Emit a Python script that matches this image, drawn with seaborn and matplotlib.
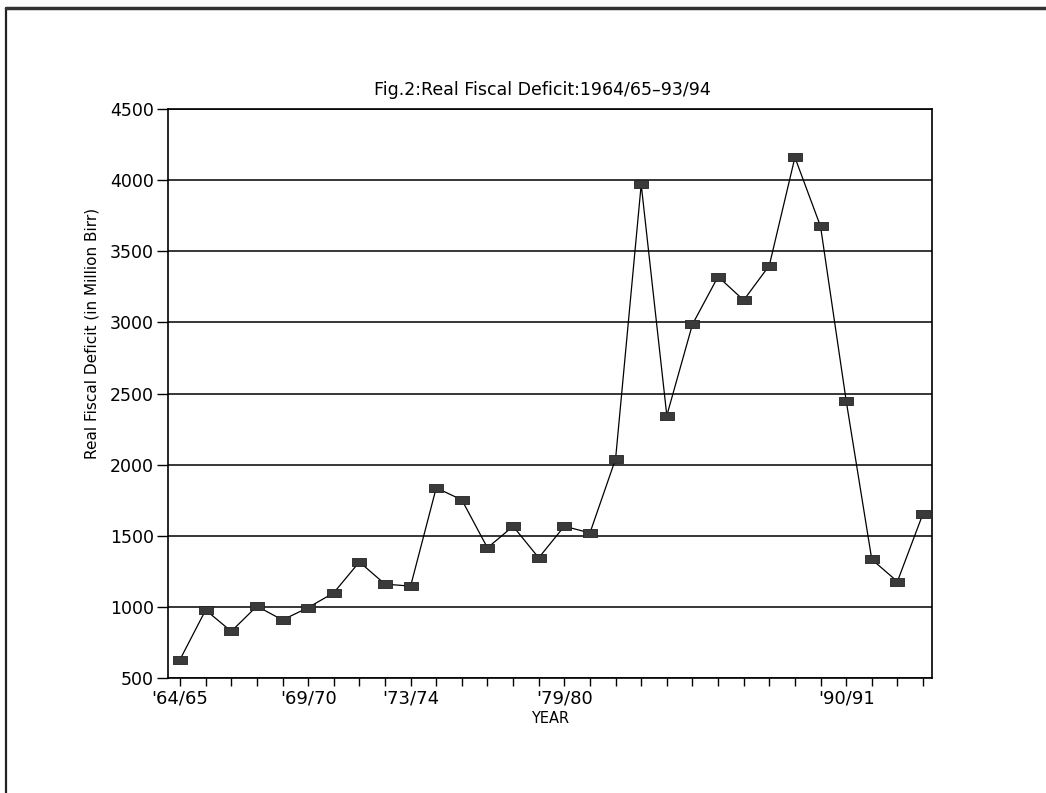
import numpy as np
import pandas as pd
import matplotlib
matplotlib.use("Agg")
import matplotlib.pyplot as plt
import seaborn as sns
from matplotlib.lines import Line2D

sns.set_style("ticks")
plt.rcParams['font.family'] = ['DejaVu Sans']
plt.rcParams['text.color'] = 'black'
plt.rcParams['axes.labelcolor'] = 'black'
plt.rcParams['xtick.color'] = 'black'
plt.rcParams['ytick.color'] = 'black'

# data (million Birr, real terms)
years = ["64/65", "65/66", "66/67", "67/68", "68/69", "69/70", "70/71", "71/72",
         "72/73", "73/74", "74/75", "75/76", "76/77", "77/78", "78/79", "79/80",
         "80/81", "81/82", "82/83", "83/84", "84/85", "85/86", "86/87", "87/88",
         "88/89", "89/90", "90/91", "91/92", "92/93", "93/94"]
deficit = [630, 978, 828, 1005, 908, 995, 1099, 1316, 1160, 1146,
           1837, 1752, 1415, 1567, 1345, 1567, 1520, 2040, 3970, 2345,
           2986, 3322, 3156, 3400, 4160, 3675, 2450, 1334, 1178, 1656]
labelled = ["64/65", "69/70", "73/74", "79/80", "90/91"]
yticks = [500, 1000, 1500, 2000, 2500, 3000, 3500, 4000, 4500]

df = pd.DataFrame({"Year": years, "Deficit": deficit})
df["pos"] = np.arange(len(df))

fig = plt.figure(figsize=(10.46, 7.93), dpi=100)
ax = fig.add_axes([0.1606, 0.145, 0.7304, 0.7175])

# wide flat squares like the old plotter markers
box = [(-1, -0.6), (1, -0.6), (1, 0.6), (-1, 0.6), (-1, -0.6)]
sns.lineplot(data=df, x="pos", y="Deficit", ax=ax, color="black", lw=0.9,
             marker=box, markersize=9.5, markerfacecolor="#3a3a3a",
             markeredgecolor="#222222", markeredgewidth=0.6)

ax.set_xlim(-0.47, len(df) - 0.65)
ax.set_ylim(500, 4500)
ax.set_yticks(yticks)
ax.yaxis.grid(True, color="black", lw=1.1)
ax.set_axisbelow(True)

ax.set_xticks(df["pos"])
ax.set_xticklabels(["'" + y if y in labelled else "" for y in years])
ax.tick_params(axis="x", direction="out", length=6, width=1, labelsize=13, pad=2)
ax.tick_params(axis="y", direction="out", length=8, width=1, labelsize=12.5, pad=2)
for s in ax.spines.values():
    s.set_color("black")
    s.set_linewidth(1.2)

ax.set_title("Fig.2:Real Fiscal Deficit:1964/65\u201393/94", fontsize=12.5, pad=10, x=0.49)
ax.set_xlabel("YEAR", fontsize=10.5, labelpad=3)
ax.set_ylabel("Real Fiscal Deficit (in Million Birr)", fontsize=11, labelpad=6)
ax.yaxis.set_label_coords(-0.09, 0.606)

# page frame of the scanned sheet (left and top edges)
fig.add_artist(Line2D([0.006, 0.006], [0.0, 0.99], transform=fig.transFigure, color="#222222", lw=1.6))
fig.add_artist(Line2D([0.006, 1.0], [0.99, 0.99], transform=fig.transFigure, color="#333333", lw=2.5))

fig.savefig("out.png", dpi=100)
